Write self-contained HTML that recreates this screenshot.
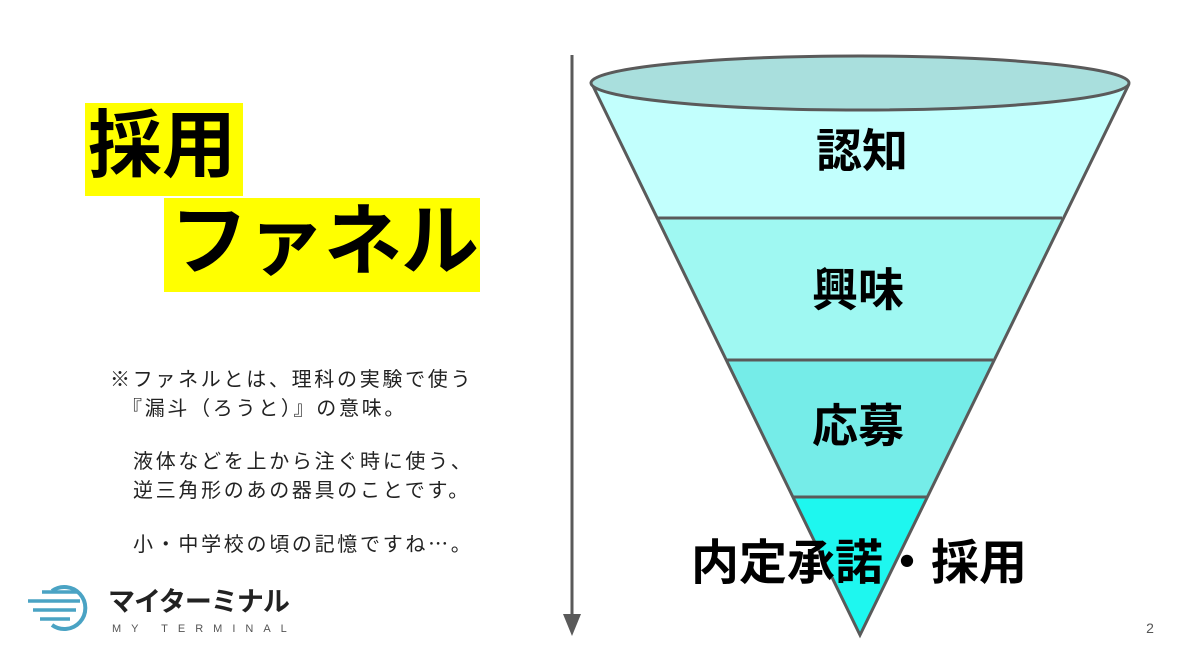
<!DOCTYPE html>
<html><head><meta charset="utf-8"><style>
body{margin:0;width:1180px;height:661px;background:#fff;overflow:hidden;position:relative;font-family:"Liberation Sans","Noto Sans CJK JP",sans-serif}
.y{position:absolute;background:#ffff00;font-weight:bold;color:#000;line-height:1;white-space:nowrap}
.t{position:absolute;font-size:20px;color:#222;white-space:nowrap;line-height:29px;letter-spacing:2.7px;font-family:"Noto Sans CJK JP",sans-serif}
</style></head><body>
<div class="y" style="left:85px;top:103px;width:158px;height:93px;font-size:74px;"><span style="position:absolute;left:3px;top:6px">採用</span></div>
<div class="y" style="left:164px;top:198px;width:316px;height:94px;font-size:78px;"><span style="position:absolute;left:6px;top:4px;letter-spacing:-1px">ファネル</span></div>
<div class="t" style="left:110px;top:363px">※ファネルとは、理科の実験で使う</div>
<div class="t" style="left:122px;top:392px">『漏斗（ろうと）』の意味。</div>
<div class="t" style="left:133px;top:445px">液体などを上から注ぐ時に使う、</div>
<div class="t" style="left:133px;top:474px">逆三角形のあの器具のことです。</div>
<div class="t" style="left:133px;top:528px">小・中学校の頃の記憶ですね…。</div>
<svg width="1180" height="661" style="position:absolute;left:0;top:0">
<line x1="572" y1="55" x2="572" y2="622" stroke="#5a5a5a" stroke-width="3"/>
<polygon points="563,614 581,614 572,636" fill="#5a5a5a"/>
<polygon points="592,84 1129,84 1062,218 657,218" fill="#c2fffd"/>
<polygon points="657,218 1062,218 993,360 726,360" fill="#9ff8f2"/>
<polygon points="726,360 993,360 927,497 793,497" fill="#75ece8"/>
<polygon points="793,497 927,497 860,635" fill="#1ef7ef"/>
<line x1="657" y1="218" x2="1062" y2="218" stroke="#5a5a5a" stroke-width="3"/>
<line x1="726" y1="360" x2="993" y2="360" stroke="#5a5a5a" stroke-width="3"/>
<line x1="793" y1="497" x2="927" y2="497" stroke="#5a5a5a" stroke-width="3"/>
<polyline points="592,84 860,635 1129,84" fill="none" stroke="#5a5a5a" stroke-width="3"/>
<ellipse cx="860" cy="83" rx="269" ry="27" fill="#a9dfdd" stroke="#5a5a5a" stroke-width="3"/>
<g font-family="Liberation Sans,Noto Sans CJK JP,sans-serif" font-weight="bold" fill="#000" text-anchor="middle">
<text x="862" y="167" font-size="46">認知</text>
<text x="858" y="306" font-size="46">興味</text>
<text x="858" y="442" font-size="46">応募</text>
<text x="859" y="579" font-size="48">内定承諾・採用</text>
</g>
<text x="1150" y="633" font-size="14" fill="#555" text-anchor="middle" font-family="Liberation Sans,sans-serif">2</text>
<g fill="none" stroke="#4aa3c4" stroke-width="4">
<path d="M52,591 A21,21 0 1 1 52,625"/>
</g>
<g stroke="#4aa3c4" stroke-width="3.5">
<line x1="42" y1="592" x2="78" y2="592"/>
<line x1="28" y1="601" x2="80" y2="601"/>
<line x1="33" y1="610" x2="76" y2="610"/>
<line x1="40" y1="619" x2="70" y2="619"/>
</g>
<text x="108" y="611" font-size="27" font-weight="bold" fill="#222" font-family="Noto Sans CJK JP,sans-serif" letter-spacing="-1">マイターミナル</text>
<text x="112" y="632" font-size="11" fill="#555" font-family="Liberation Sans,sans-serif" letter-spacing="10">MY TERMINAL</text>
</svg>
</body></html>
